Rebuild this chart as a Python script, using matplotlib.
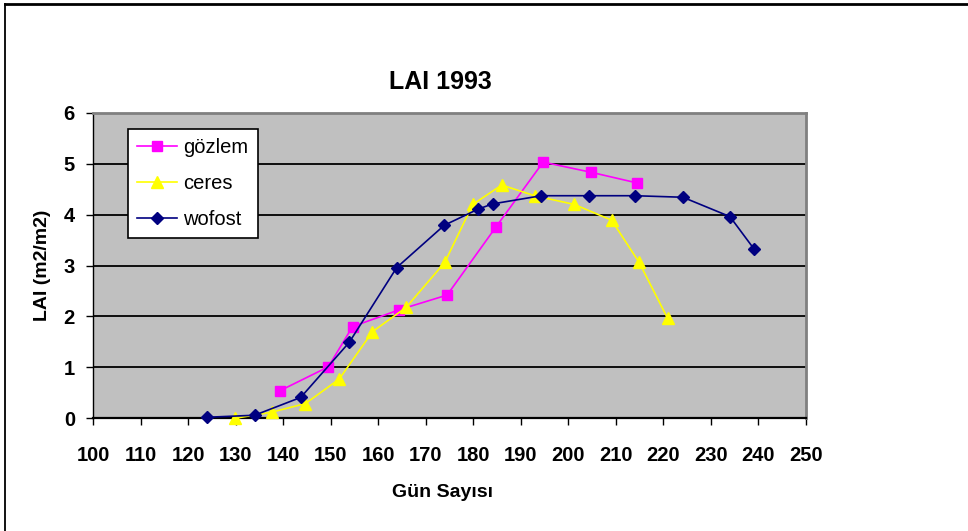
import matplotlib
matplotlib.use('Agg')
import matplotlib.pyplot as plt
from matplotlib.lines import Line2D

plt.rcParams['font.family'] = ['Liberation Sans', 'DejaVu Sans']

# LAI observations and model runs, 1993
gozlem_day = [139.3, 149.5, 154.6, 164.4, 174.5, 184.8, 194.7, 204.8, 214.5]
gozlem_lai = [0.54, 1.01, 1.80, 2.13, 2.42, 3.76, 5.03, 4.83, 4.62]

ceres_day = [129.9, 137.6, 144.7, 151.8, 158.8, 165.9, 174.0, 179.9, 186.0,
             192.9, 201.2, 209.1, 214.9, 220.9]
ceres_lai = [0.0, 0.12, 0.29, 0.77, 1.70, 2.18, 3.06, 4.20, 4.58,
             4.37, 4.20, 3.89, 3.06, 1.96]

wofost_day = [123.9, 134.0, 143.7, 153.9, 163.9, 173.9, 181.1, 184.1, 194.3,
              204.3, 214.0, 224.1, 234.0, 239.1]
wofost_lai = [0.02, 0.06, 0.41, 1.49, 2.96, 3.79, 4.11, 4.21, 4.37,
              4.37, 4.37, 4.34, 3.96, 3.32]

x_ticks = list(range(100, 251, 10))
y_ticks = list(range(0, 7))

W, H = 968, 531
fig = plt.figure(figsize=(W / 100, H / 100), dpi=100)
fig.patch.set_facecolor('white')

left, right, top, bottom = 93, 806, 112.7, 418.3
ax = fig.add_axes([left / W, 1 - bottom / H, (right - left) / W, (bottom - top) / H])
ax.set_facecolor('#C0C0C0')

ax.plot(gozlem_day, gozlem_lai, color='#FF00FF', lw=1.2, marker='s', ms=7,
        mec='#FF00FF', mfc='#FF00FF', label='gözlem', zorder=3, clip_on=False)
ax.plot(ceres_day, ceres_lai, color='#FFFF00', lw=1.2, marker='^', ms=8.5,
        mec='#FFFF00', mfc='#FFFF00', label='ceres', zorder=3, clip_on=False)
ax.plot(wofost_day, wofost_lai, color='#000080', lw=1.2, marker='D', ms=6.5,
        mec='#000080', mfc='#000080', label='wofost', zorder=4, clip_on=False)

ax.set_xlim(100, 250)
ax.set_ylim(0, 6)
ax.set_xticks(x_ticks)
ax.set_yticks(y_ticks)
ax.yaxis.grid(True, color='black', lw=1.3)
ax.set_axisbelow(True)

for s in ('top', 'right'):
    ax.spines[s].set_color('#808080')
    ax.spines[s].set_linewidth(2)
ax.spines['left'].set_color('black')
ax.spines['left'].set_linewidth(1)
ax.spines['bottom'].set_color('black')
ax.spines['bottom'].set_linewidth(1.6)

ax.tick_params(axis='x', direction='out', length=5, width=1, pad=15,
               labelsize=14.5)
ax.tick_params(axis='y', direction='out', length=5, width=1, pad=8,
               labelsize=14.5)
for lbl in ax.get_xticklabels() + ax.get_yticklabels():
    lbl.set_fontweight('bold')

ax.set_xlabel('Gün Sayısı', fontsize=14, fontweight='bold', va='center')
ax.xaxis.set_label_coords(0.49, -0.244)
ax.set_ylabel('LAI (m2/m2)', fontsize=14, fontweight='bold', va='center')
ax.yaxis.set_label_coords(-0.0715, 0.5)

leg = ax.legend(loc='upper left', bbox_to_anchor=(0.049, 0.947), fontsize=14.5,
                frameon=True, fancybox=False, borderpad=0.45, labelspacing=0.85,
                handlelength=2.0, handletextpad=0.3, borderaxespad=0)
leg.get_frame().set_facecolor('white')
leg.get_frame().set_edgecolor('black')
leg.get_frame().set_linewidth(1.2)
leg.get_frame().set_alpha(1)

fig.text(440.7 / W, 1 - 81.7 / H, 'LAI 1993', ha='center', va='center',
         fontsize=18, fontweight='bold')

# outer chart frame (top and left edges)
fig.add_artist(Line2D([5 / W, 1], [1 - 4 / H, 1 - 4 / H], color='black', lw=2,
                      transform=fig.transFigure))
fig.add_artist(Line2D([5 / W, 5 / W], [0, 1 - 4 / H], color='black', lw=1.3,
                      transform=fig.transFigure))

fig.savefig('out.png', dpi=100)
